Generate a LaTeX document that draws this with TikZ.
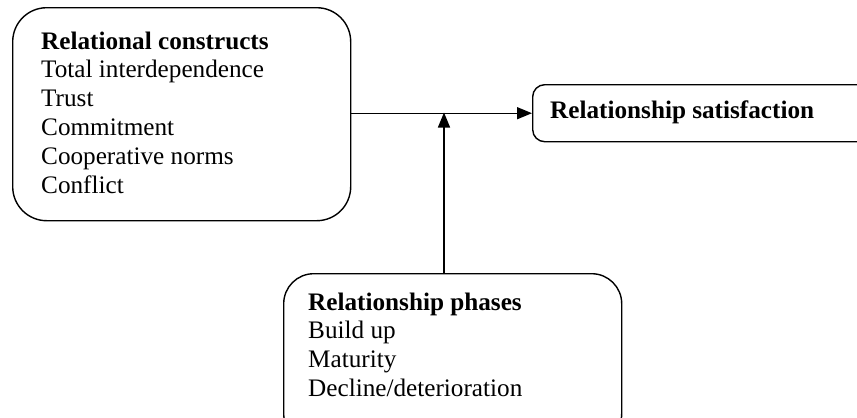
\documentclass[tikz,border=0pt]{standalone}
\usepackage{fontspec}
\setmainfont{Liberation Serif}
\usetikzlibrary{arrows.meta}
\tikzset{
  panel/.style={draw, line width=1.4bp, inner sep=0pt, anchor=north west},
  listtext/.style={inner sep=0pt, anchor=base west,
    font=\fontsize{25.2bp}{28.8bp}\selectfont},
  link/.style={line width=1.4bp, -{Triangle[length=15bp,width=12bp]}}
}
\newcommand{\boxlist}[1]{\begin{tabular}[t]{@{}l@{}}#1\end{tabular}}
\begin{document}
\begin{tikzpicture}[x=1bp,y=-1bp]
  \useasboundingbox (0,0) rectangle (857,417);
  % frames
  \node[panel, rounded corners=34bp, minimum width=338bp, minimum height=213bp] (rc) at (12,7) {};
  \node[panel, rounded corners=12bp, minimum width=340bp, minimum height=57bp] (rs) at (532,84) {};
  \node[panel, rounded corners=30bp, minimum width=338bp, minimum height=170bp] (rp) at (283,273) {};
  % texts
  \node[listtext] (rct) at (41,49) {\boxlist{\textbf{Relational constructs}\\
    Total interdependence\\ Trust\\ Commitment\\ Cooperative norms\\ Conflict}};
  \node[listtext] (rst) at (550,118) {\textbf{Relationship satisfaction}};
  \node[listtext] (rpt) at (308,310) {\boxlist{\textbf{Relationship phases}\\
    Build up\\ Maturity\\ Decline/deterioration}};
  % connectors
  \draw[link] (rc.east |- rs.west) -- (rs.west);
  \coordinate (join) at (444,112.5);
  \draw[link] (join |- rp.north) -- (join);
\end{tikzpicture}
\end{document}
